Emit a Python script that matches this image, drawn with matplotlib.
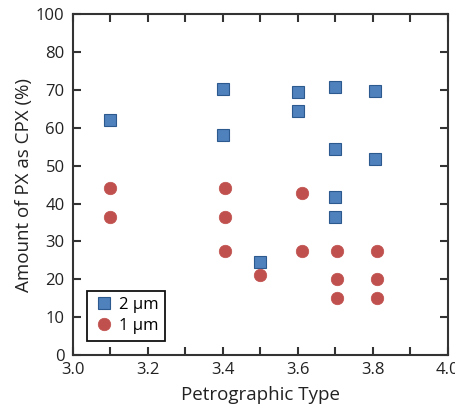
import matplotlib
matplotlib.use("Agg")
import matplotlib.pyplot as plt
from matplotlib.ticker import MultipleLocator

plt.rcParams['font.family'] = ['Open Sans', 'DejaVu Sans']

# Data
x_2um = [3.10, 3.40, 3.40, 3.50, 3.60, 3.60, 3.70, 3.70, 3.70, 3.70, 3.805, 3.805]
y_2um = [62.0, 70.3, 58.1, 24.6, 69.3, 64.5, 70.7, 54.4, 41.6, 36.5, 69.6, 51.8]

x_1um = [3.10, 3.10, 3.405, 3.405, 3.405, 3.50, 3.61, 3.61, 3.705, 3.705, 3.705, 3.81, 3.81, 3.81]
y_1um = [44.1, 36.4, 44.0, 36.4, 27.6, 21.2, 42.8, 27.6, 27.6, 20.0, 15.0, 27.6, 20.0, 15.0]

x_ticks = [3.0, 3.2, 3.4, 3.6, 3.8, 4.0]
x_ticklabels = ['3.0', '3.2', '3.4', '3.6', '3.8', '4.0']
y_ticks = [0, 10, 20, 30, 40, 50, 60, 70, 80, 90]
y_ticklabels = ['0', '10', '20', '30', '40', '50', '60', '70', '80', '100']

fig = plt.figure(figsize=(4.56, 4.12), dpi=100)
ax = fig.add_axes([0.160, 0.138, 0.822, 0.828])

ax.plot(x_2um, y_2um, ls='none', marker='s', ms=8, mfc='#4F81BD',
        mec='#2C5A8F', mew=0.8, label='2 µm', zorder=3)
ax.plot(x_1um, y_1um, ls='none', marker='o', ms=9, mfc='#C0504D',
        mec='#C0504D', mew=0.5, label='1 µm', zorder=3)

ax.set_xlim(3.0, 4.0)
ax.set_ylim(0, 90)
ax.set_xticks(x_ticks)
ax.set_xticklabels(x_ticklabels)
ax.xaxis.set_minor_locator(MultipleLocator(0.1))
ax.set_yticks(y_ticks)
ax.set_yticklabels(y_ticklabels)

for s in ax.spines.values():
    s.set_linewidth(1.5)
    s.set_color('#333333')

ax.tick_params(which='both', direction='in', top=True, right=True,
               length=6, width=1.5, color='#333333', labelsize=12,
               labelcolor='#222222')
ax.tick_params(axis='x', pad=5)
ax.tick_params(axis='y', pad=6)

ax.set_xlabel('Petrographic Type', fontsize=13.5, color='#222222', labelpad=6)
ax.set_ylabel('Amount of PX as CPX (%)', fontsize=13.5, color='#222222', labelpad=2)

leg = ax.legend(loc='lower left', bbox_to_anchor=(0.0, 0.0), borderaxespad=0.85,
                fancybox=False, framealpha=1, edgecolor='#111111',
                fontsize=12, handletextpad=0.3, handlelength=1.2,
                borderpad=0.4, labelspacing=0.3)
leg.get_frame().set_linewidth(1.3)

fig.savefig('out.png', dpi=100)
